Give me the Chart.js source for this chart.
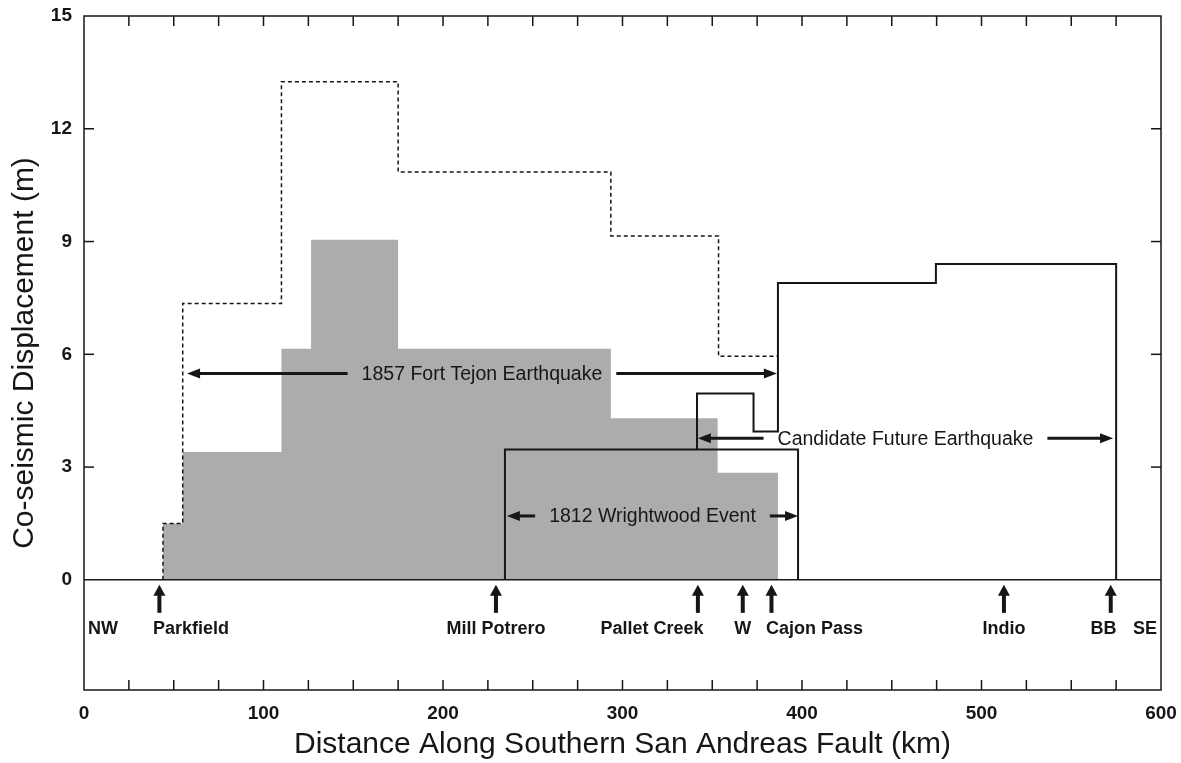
<!DOCTYPE html>
<html>
<head>
<meta charset="utf-8">
<title>Co-seismic displacement, southern San Andreas Fault</title>
<script src="https://cdn.jsdelivr.net/npm/chart.js@4.4.1/dist/chart.umd.min.js"></script>
<style>
  html, body { margin: 0; padding: 0; background: #fff; }
  #wrap { width: 1181px; height: 763px; }
</style>
</head>
<body>
<div id="wrap"><canvas id="slip-chart" width="1181" height="763"></canvas></div>
<script>
/*global document, Chart*/
/*jslint indent: 2 */

// values: km along the fault, metres of slip.
// with stepped lines each slip value holds from its km up to the next km.
var tejonKm = [44, 44, 55, 110, 126.5, 175, 293.5, 353, 386.6];
var tejonSlip = [0, 1.5, 3.4, 6.15, 9.05, 6.15, 4.3, 2.85, 0];

var tejonMaxKm = [44, 44, 55, 110, 175, 293.5, 353.5, 386.6];
var tejonMaxSlip = [0, 1.5, 7.35, 13.25, 10.85, 9.15, 5.95, 5.95];

var wrightwoodKm = [234.5, 234.5, 397.8];
var wrightwoodSlip = [0, 3.47, 0];

var futureKm = [341.5, 341.5, 373, 386.6, 474.6, 575];
var futureSlip = [3.47, 4.96, 3.95, 7.9, 8.4, 0];

var baselineKm = [0, 600];
var baselineSlip = [0, 0];

// rupture spans with double arrows
var spanNames = ["1857 Fort Tejon Earthquake", "Candidate Future Earthquake", "1812 Wrightwood Event"];
var spanFromKm = [57.4, 342, 235.6];
var spanToKm = [386, 573.3, 397.8];
var spanLevel = [5.49, 3.77, 1.7];

// sites marked under the axis
var siteNames = ["Parkfield", "Mill Potrero", "Pallet Creek", "W", "Cajon Pass", "Indio", "BB"];
var siteKm = [42, 229.5, 342, 367, 383, 512.5, 572];
var siteLabelKm = [59.6, 229.5, 316.4, 367, 407, 512.5, 568];
var endNames = ["NW", "SE"];

var xTicks = [0, 100, 200, 300, 400, 500, 600];
var xMinorStep = 25;
var yTicks = [0, 3, 6, 9, 12, 15];

(function (document, Chart) {
  "use strict";

  var INK = "#161616",
    FONT = "'Liberation Sans', Arial, Helvetica, sans-serif";

  Chart.defaults.font.family = FONT;
  Chart.defaults.color = INK;

  function points(xs, ys) {
    var i, out = [];
    for (i = 0; i < xs.length; i += 1) {
      out.push({x: xs[i], y: ys[i]});
    }
    return out;
  }

  function head(ctx, x, y, dx, dy, len, half) {
    // filled triangle, tip at (x, y), pointing along (dx, dy)
    ctx.beginPath();
    ctx.moveTo(x, y);
    ctx.lineTo(x - dx * len - dy * half, y - dy * len - dx * half);
    ctx.lineTo(x - dx * len + dy * half, y - dy * len + dx * half);
    ctx.closePath();
    ctx.fill();
  }

  function line(ctx, x1, y1, x2, y2) {
    ctx.beginPath();
    ctx.moveTo(x1, y1);
    ctx.lineTo(x2, y2);
    ctx.stroke();
  }

  var decor = {
    id: "decor",
    afterDatasetsDraw: function (chart) {
      var ctx = chart.ctx,
        area = chart.chartArea,
        xs = chart.scales.x,
        ys = chart.scales.y,
        i, km, x, y, x1, x2, mid, half, y0;

      ctx.save();
      ctx.strokeStyle = INK;
      ctx.fillStyle = INK;

      // frame and inward ticks
      ctx.lineWidth = 1.5;
      ctx.strokeRect(area.left, area.top, area.right - area.left, area.bottom - area.top);
      for (km = xMinorStep; km < 600; km += xMinorStep) {
        x = xs.getPixelForValue(km);
        line(ctx, x, area.top, x, area.top + 10);
        line(ctx, x, area.bottom, x, area.bottom - 10);
      }
      for (i = 1; i < yTicks.length - 1; i += 1) {
        y = ys.getPixelForValue(yTicks[i]);
        line(ctx, area.left, y, area.left + 10, y);
        line(ctx, area.right, y, area.right - 10, y);
      }

      // rupture spans
      ctx.font = "19.5px " + FONT;
      ctx.textAlign = "center";
      ctx.textBaseline = "middle";
      ctx.lineWidth = 3;
      for (i = 0; i < spanNames.length; i += 1) {
        y = ys.getPixelForValue(spanLevel[i]);
        x1 = xs.getPixelForValue(spanFromKm[i]);
        x2 = xs.getPixelForValue(spanToKm[i]);
        mid = (x1 + x2) / 2;
        half = ctx.measureText(spanNames[i]).width / 2;
        ctx.fillText(spanNames[i], mid, y + 1);
        line(ctx, x1 + 8, y, mid - half - 14, y);
        line(ctx, mid + half + 14, y, x2 - 8, y);
        head(ctx, x1, y, -1, 0, 13, 5);
        head(ctx, x2, y, 1, 0, 13, 5);
      }

      // sites under the zero line
      y0 = ys.getPixelForValue(0);
      ctx.font = "bold 18px " + FONT;
      ctx.lineWidth = 4;
      for (i = 0; i < siteNames.length; i += 1) {
        x = xs.getPixelForValue(siteKm[i]);
        line(ctx, x, y0 + 12, x, y0 + 33);
        head(ctx, x, y0 + 5, 0, -1, 11, 6);
        ctx.fillText(siteNames[i], xs.getPixelForValue(siteLabelKm[i]), y0 + 49);
      }
      ctx.textAlign = "left";
      ctx.fillText(endNames[0], area.left + 4, y0 + 49);
      ctx.textAlign = "right";
      ctx.fillText(endNames[1], area.right - 4, y0 + 49);
      ctx.restore();
    }
  };

  new Chart(document.getElementById("slip-chart"), {
    type: "line",
    data: {
      datasets: [
        {
          label: "1812 Wrightwood Event",
          data: points(wrightwoodKm, wrightwoodSlip),
          stepped: true,
          borderColor: INK,
          borderWidth: 2,
          pointRadius: 0,
          fill: false
        },
        {
          label: "Candidate Future Earthquake",
          data: points(futureKm, futureSlip),
          stepped: true,
          borderColor: INK,
          borderWidth: 2,
          pointRadius: 0,
          fill: false
        },
        {
          label: "1857 upper bound",
          data: points(tejonMaxKm, tejonMaxSlip),
          stepped: true,
          borderColor: INK,
          borderWidth: 1.5,
          borderDash: [4, 3],
          pointRadius: 0,
          fill: false
        },
        {
          label: "baseline",
          data: points(baselineKm, baselineSlip),
          borderColor: INK,
          borderWidth: 1.5,
          pointRadius: 0,
          fill: false
        },
        {
          label: "1857 Fort Tejon Earthquake",
          data: points(tejonKm, tejonSlip),
          stepped: true,
          borderWidth: 0,
          borderColor: "rgba(0,0,0,0)",
          backgroundColor: "rgb(172,172,172)",
          pointRadius: 0,
          fill: "origin"
        }
      ]
    },
    options: {
      responsive: false,
      animation: false,
      events: [],
      layout: {padding: {top: 16, right: 20, left: 0, bottom: 0}},
      plugins: {
        legend: {display: false},
        tooltip: {enabled: false}
      },
      scales: {
        x: {
          type: "linear",
          min: 0,
          max: 600,
          grid: {display: false, drawTicks: false},
          border: {display: false},
          afterBuildTicks: function (scale) {
            scale.ticks = xTicks.map(function (v) { return {value: v}; });
          },
          afterFit: function (scale) {
            scale.height = 73;
            scale.paddingLeft = 0;
            scale.paddingRight = 0;
          },
          ticks: {padding: 12, maxRotation: 0, font: {size: 19, weight: "bold"}},
          title: {
            display: true,
            text: "Distance Along Southern San Andreas Fault (km)",
            font: {size: 30},
            padding: {top: 0, bottom: 0}
          }
        },
        y: {
          type: "linear",
          min: -2.93,
          max: 15,
          grid: {display: false, drawTicks: false},
          border: {display: false},
          afterBuildTicks: function (scale) {
            scale.ticks = yTicks.map(function (v) { return {value: v}; });
          },
          afterFit: function (scale) {
            scale.width = 84;
            scale.paddingTop = 0;
            scale.paddingBottom = 0;
          },
          ticks: {padding: 12, font: {size: 19, weight: "bold"}},
          title: {
            display: true,
            text: "Co-seismic Displacement (m)",
            font: {size: 30},
            padding: {top: 7, bottom: 0}
          }
        }
      }
    },
    plugins: [decor]
  });

}(document, Chart));
</script>
</body>
</html>
